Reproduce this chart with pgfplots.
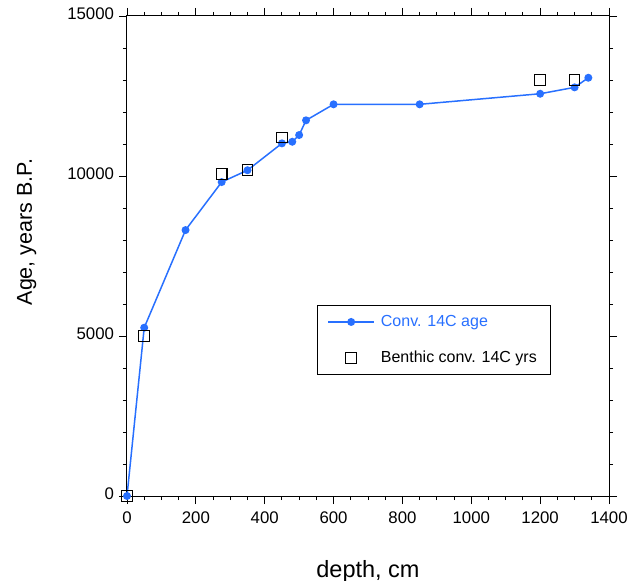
\documentclass[border=0pt]{standalone}
\usepackage{pgfplots}
\pgfplotsset{compat=1.18}
\usepackage{fontspec}
\setmainfont{Liberation Sans}
\definecolor{cblue}{RGB}{40,112,255}
\begin{document}
\begin{tikzpicture}
\useasboundingbox (-127bp,-85bp) rectangle (501bp,496bp);
\begin{axis}[
  at={(0,0)}, anchor=south west,
  width=482bp, height=480bp, scale only axis,
  xmin=0, xmax=1400, ymin=0, ymax=15000,
  xtick={0,200,...,1400}, minor x tick num=3,
  ytick={0,5000,10000,15000}, minor y tick num=4,
  tick align=outside,
  major tick length=8bp, minor tick length=4bp,
  xticklabel pos=lower, yticklabel pos=left,
  axis line style={line width=1bp},
  every tick/.style={black, line width=0.9bp},
  scaled ticks=false,
  /pgf/number format/assume math mode=true,
  /pgf/number format/1000 sep={},
  tick label style={font=\fontsize{16.8bp}{20bp}\selectfont},
  xticklabel style={yshift=-4bp},
  yticklabel style={xshift=-1.5bp, yshift=2bp},
  xlabel={depth, cm},
  ylabel={Age, years B.P.},
  xlabel style={font=\fontsize{23.5bp}{28bp}\selectfont, at={([yshift=-81bp]axis description cs:0.5,0)}, anchor=base},
  ylabel style={font=\fontsize{21.5bp}{26bp}\selectfont, at={([xshift=-95bp]axis description cs:0,0.55)}, anchor=base},
  legend cell align=left,
  legend image code/.code={\draw[mark repeat=2,mark phase=2,#1] plot coordinates {(0bp,0bp)(23bp,0bp)(46bp,0bp)};},
  legend style={at={(0.394,0.398)}, anchor=north west, draw=black, line width=1bp,
    font=\fontsize{16bp}{19bp}\selectfont,
    inner xsep=10bp, inner ysep=9bp, row sep=21bp, column sep=0bp,
    nodes={inner sep=0bp, text height=12bp, text depth=3bp},
    cells={anchor=west}},
]
\addplot[cblue, line width=1.5bp, mark=*, mark size=3.2bp, mark options={solid, fill=cblue, draw=cblue}]
  coordinates {
  (0,0) (50,5260) (170,8310) (275,9810) (350,10180) (450,11020) (480,11070)
  (500,11280) (520,11740) (600,12240) (850,12240) (1200,12570) (1300,12770) (1340,13070)
  };
\addlegendentry{\hspace{6bp}\parbox{160bp}{\textcolor{cblue}{Conv. 14C age}}}
\addplot[only marks, black, mark=square, mark size=5.3bp, mark options={line width=1.1bp}]
  coordinates {
  (0,0) (50,5000) (275,10070) (350,10190) (450,11200) (1200,13000) (1300,13000)
  };
\addlegendentry{\hspace{6bp}\parbox{160bp}{Benthic conv. 14C yrs}}
\end{axis}
\end{tikzpicture}
\end{document}
